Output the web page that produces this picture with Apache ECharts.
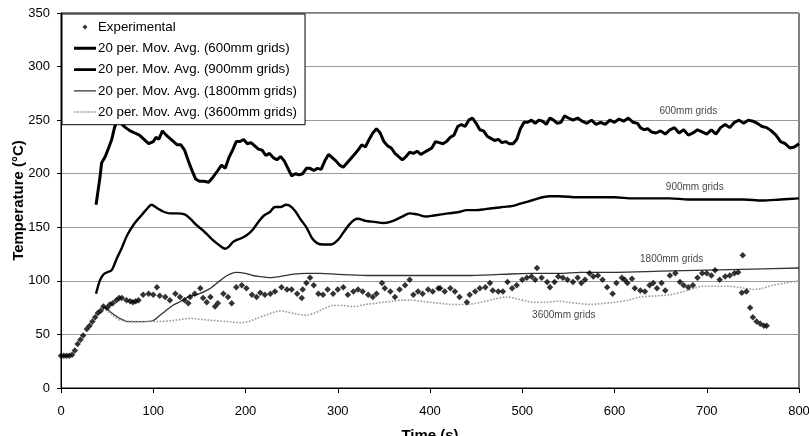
<!DOCTYPE html>
<html>
<head>
<meta charset="utf-8">
<script src="https://cdn.jsdelivr.net/npm/echarts@6/dist/echarts.min.js"></script>
<style>html,body{margin:0;padding:0;background:#fff}#c{width:809px;height:436px}</style>
</head>
<body>
<div id="c"></div>
<script>
const xTicks = [0,100,200,300,400,500,600,700,800];
const yTicks = [0,50,100,150,200,250,300,350];

const expTime = [0,3,6,9,12,15,18,21,24,28,31,34,37,40,43,46,50,53,56,60,63,66,71,75,78,81,84,89,95,100,104,107,113,118,124,129,134,138,140,145,151,154,158,162,167,170,176,181,185,190,196,201,207,212,216,221,227,232,239,245,250,256,261,262,266,270,274,279,284,289,295,300,306,311,317,322,327,333,338,342,348,351,357,362,367,373,378,382,387,392,398,403,409,411,416,422,427,432,440,443,449,454,460,465,468,474,479,484,489,494,500,505,510,514,516,521,527,530,535,539,544,549,555,560,564,568,573,577,582,587,592,598,602,608,611,614,619,622,628,633,638,642,646,651,655,660,666,671,675,680,685,690,695,700,705,709,714,720,725,730,734,738,739,743,747,750,754,758,762,765];
const expTemp = [30,30,30,30,31,35,41,45,49,55,58,62,66,70,72,76,75,78,79,82,84,84,82,81,80,81,82,87,88,87,94,86,85,82,88,85,82,79,85,88,93,84,80,85,76,79,88,85,79,94,96,93,87,85,89,87,88,90,94,92,92,88,84,92,98,103,96,88,87,92,88,92,94,87,90,92,90,87,85,88,98,93,90,85,92,96,101,87,90,88,92,90,93,93,90,93,90,85,80,87,90,93,94,98,91,90,90,99,93,96,101,103,104,101,112,103,99,94,99,104,103,101,99,103,98,101,107,104,105,101,94,88,98,103,101,98,102,93,91,90,96,98,93,98,91,105,107,99,96,94,96,103,107,107,105,110,101,104,105,107,108,89,124,90,75,66,62,60,58,58];

const g600Time = [38,42,44,48,52,55,58,61,65,70,75,80,85,90,95,100,103,106,110,114,118,122,126,130,134,138,142,146,150,155,160,165,170,174,178,182,186,190,194,198,202,206,210,214,218,222,226,230,234,238,242,246,250,254,258,262,266,270,274,278,282,286,290,294,298,302,306,310,314,318,322,326,330,334,338,342,346,350,354,358,362,366,370,374,378,382,386,390,394,398,402,406,410,414,418,422,426,430,434,438,442,446,450,454,458,462,466,470,474,478,482,486,490,494,498,502,506,510,514,518,522,526,530,534,538,542,546,550,555,560,565,570,575,580,585,590,595,600,605,610,615,620,625,628,632,636,640,645,650,655,660,665,670,675,680,685,690,695,700,705,710,715,720,725,730,735,740,745,750,755,760,765,770,775,780,785,790,795,800];
const g600Temp = [171,195,210,216,225,232,243,250,247,243,240,238,236,232,228,230,234,232,240,236,233,230,227,227,222,212,203,195,193,193,192,197,203,208,205,215,222,230,230,232,228,229,226,223,222,217,219,215,213,216,212,205,198,200,199,200,205,205,203,205,204,212,218,215,212,208,206,210,214,218,222,227,225,232,238,242,238,230,226,224,219,216,213,216,220,219,221,218,220,222,224,230,229,228,230,234,236,244,246,244,250,252,247,241,240,235,233,231,232,229,230,228,228,232,242,248,248,250,247,250,249,246,252,250,247,248,254,252,250,252,249,247,250,246,248,246,250,248,251,249,252,248,247,243,241,242,239,238,240,237,241,243,238,241,236,238,241,239,237,241,237,243,246,243,248,250,247,250,249,247,244,243,240,236,230,228,224,225,228];

const g900Time = [38,42,46,50,55,60,66,72,80,88,94,98,104,110,118,126,134,140,147,154,160,166,172,178,182,186,190,196,202,208,214,220,226,232,238,244,248,254,260,266,272,278,285,293,300,306,312,318,322,330,340,350,360,370,378,386,396,404,412,420,430,440,450,460,470,480,490,498,506,514,522,530,540,560,580,600,620,640,660,680,700,720,740,760,780,800];
const g900Temp = [88,100,106,108,110,120,131,143,154,162,168,171,168,165,163,163,162,158,152,147,142,137,133,130,132,136,138,140,143,148,155,161,164,169,169,171,170,165,157,150,140,135,134,134,138,145,152,157,158,156,155,154,156,160,163,162,160,161,162,163,164,166,166,167,168,169,170,172,174,176,178,179,179,178,178,178,177,177,177,176,176,176,176,175,176,177];

const g1800Time = [45,50,55,60,66,72,80,90,100,106,112,121,130,140,147,160,172,180,190,200,208,216,226,237,250,266,281,300,331,360,404,440,476,510,540,563,600,650,700,750,800];
const g1800Temp = [76,74,70,67,64,62,62,62,63,67,71,77,81,86,87,92,100,105,108,107,105,104,103,104,106,107,107,106,105,105,105,105,106,107,107,108,108,109,110,111,112];

const g3600Time = [45,50,56,62,67,80,93,105,121,130,140,152,165,180,194,203,212,222,232,237,245,255,266,275,285,295,305,317,330,340,349,360,370,378,390,400,411,425,440,455,470,483,495,505,512,525,540,550,560,575,588,600,615,628,645,660,675,686,696,710,722,735,750,760,772,785,800];
const g3600Temp = [74,72,68,64,63,62,62,62,63,64,65,64,63,62,61,62,65,68,71,72,71,69,68,70,74,77,77,76,78,79,80,81,82,82,81,80,79,78,78,80,83,85,83,81,80,80,81,80,79,78,79,80,82,85,86,87,90,93,95,95,95,94,92,93,96,98,100];

const seriesNames = ['Experimental','20 per. Mov. Avg. (600mm grids)','20 per. Mov. Avg. (900mm grids)','20 per. Mov. Avg. (1800mm grids)','20 per. Mov. Avg. (3600mm grids)'];
const noteText = ['600mm grids','900mm grids','1800mm grids','3600mm grids'];
const noteTime = [680,687,662,545];
const noteTemp = [258,187,120,68];

const pairs = (t, v) => t.map((x, i) => [x, v[i]]);
const FONT = '"Liberation Sans", Arial, sans-serif';
const BOX = 'M0,0 L0,0.01 M22,14 L22,13.99 ';
const barIcon = h => 'path://' + BOX + 'M0,' + (7 - h / 2) + ' L22,' + (7 - h / 2) + ' L22,' + (7 + h / 2) + ' L0,' + (7 + h / 2) + ' Z';
let dashPath = 'path://' + BOX;
for (let s = 0; s < 22; s += 3) { dashPath += 'M' + s + ',6.2 L' + (s + 1.8) + ',6.2 L' + (s + 1.8) + ',7.8 L' + s + ',7.8 Z '; }

const chart = echarts.init(document.getElementById('c'), null, {renderer: 'canvas'});
chart.setOption({
  animation: false,
  backgroundColor: '#fff',
  textStyle: {fontFamily: FONT},
  grid: {left: 61, right: 10, top: 13, bottom: 48, containLabel: false, outerBoundsMode: 'none',
         show: true, borderColor: '#000', borderWidth: 1, backgroundColor: 'transparent'},
  legend: {
    orient: 'vertical', left: 62, top: 14,
    backgroundColor: '#fff', borderColor: '#000', borderWidth: 1,
    padding: [6, 8, 6, 12], itemGap: 7.3, itemWidth: 22, itemHeight: 14,
    textStyle: {fontSize: 13.3, color: '#000', fontFamily: FONT, padding: [0,0,0,-3]},
    data: [
      {name: seriesNames[0], icon: 'path://' + BOX + 'M11,4.5 L13.5,7 L11,9.5 L8.5,7 Z'},
      {name: seriesNames[1], icon: barIcon(3)},
      {name: seriesNames[2], icon: barIcon(2.6)},
      {name: seriesNames[3], icon: barIcon(1.4)},
      {name: seriesNames[4], icon: dashPath}
    ]
  },
  xAxis: {
    type: 'value', min: 0, max: 800, interval: 100,
    name: 'Time (s)', nameLocation: 'middle', nameGap: 40, nameMoveOverlap: false,
    nameTextStyle: {fontSize: 15, fontWeight: 'bold', color: '#000', fontFamily: FONT},
    axisLine: {lineStyle: {color: '#000', width: 1}},
    axisTick: {show: true, length: 5, lineStyle: {color: '#000'}},
    axisLabel: {fontSize: 13, color: '#000', margin: 17, fontFamily: FONT, formatter: v => xTicks.includes(v) ? String(v) : ''},
    splitLine: {show: false}
  },
  yAxis: {
    type: 'value', min: 0, max: 350, interval: 50,
    name: 'Temperature (°C)', nameLocation: 'middle', nameGap: 35, nameMoveOverlap: false,
    nameTextStyle: {fontSize: 15, fontWeight: 'bold', color: '#000', fontFamily: FONT},
    axisLine: {show: true, lineStyle: {color: '#000', width: 1}},
    axisTick: {show: true, length: 4, lineStyle: {color: '#000'}},
    axisLabel: {fontSize: 13, color: '#000', margin: 11, fontFamily: FONT, formatter: v => yTicks.includes(v) ? String(v) : ''},
    splitLine: {show: true, lineStyle: {color: '#999', width: 1}}
  },
  series: [
    {name: seriesNames[1], type: 'line', data: pairs(g600Time, g600Temp), symbol: 'none', showSymbol: false,
     lineStyle: {color: '#000', width: 3}, itemStyle: {color: '#000'}, z: 3},
    {name: seriesNames[2], type: 'line', data: pairs(g900Time, g900Temp), symbol: 'none', showSymbol: false, smooth: 0.3,
     lineStyle: {color: '#000', width: 2.4}, itemStyle: {color: '#000'}, z: 3},
    {name: seriesNames[3], type: 'line', data: pairs(g1800Time, g1800Temp), symbol: 'none', showSymbol: false, smooth: 0.3,
     lineStyle: {color: '#333', width: 1.3}, itemStyle: {color: '#333'}, z: 3},
    {name: seriesNames[4], type: 'line', data: pairs(g3600Time, g3600Temp), symbol: 'none', showSymbol: false, smooth: 0.3,
     lineStyle: {color: '#999', width: 1.6, type: 'dotted'}, itemStyle: {color: '#999'}, z: 3},
    {name: seriesNames[0], type: 'scatter', data: pairs(expTime, expTemp), symbol: 'diamond', symbolSize: 6.5,
     itemStyle: {color: '#000'}, z: 4},
    {name: 'notes', type: 'scatter', silent: true, symbolSize: 0, z: 5,
     data: noteText.map((s, i) => ({value: [noteTime[i], noteTemp[i]], label: {formatter: s}})),
     label: {show: true, position: 'inside', fontSize: 10, color: '#111', fontFamily: FONT}}
  ]
});
</script>
</body>
</html>
